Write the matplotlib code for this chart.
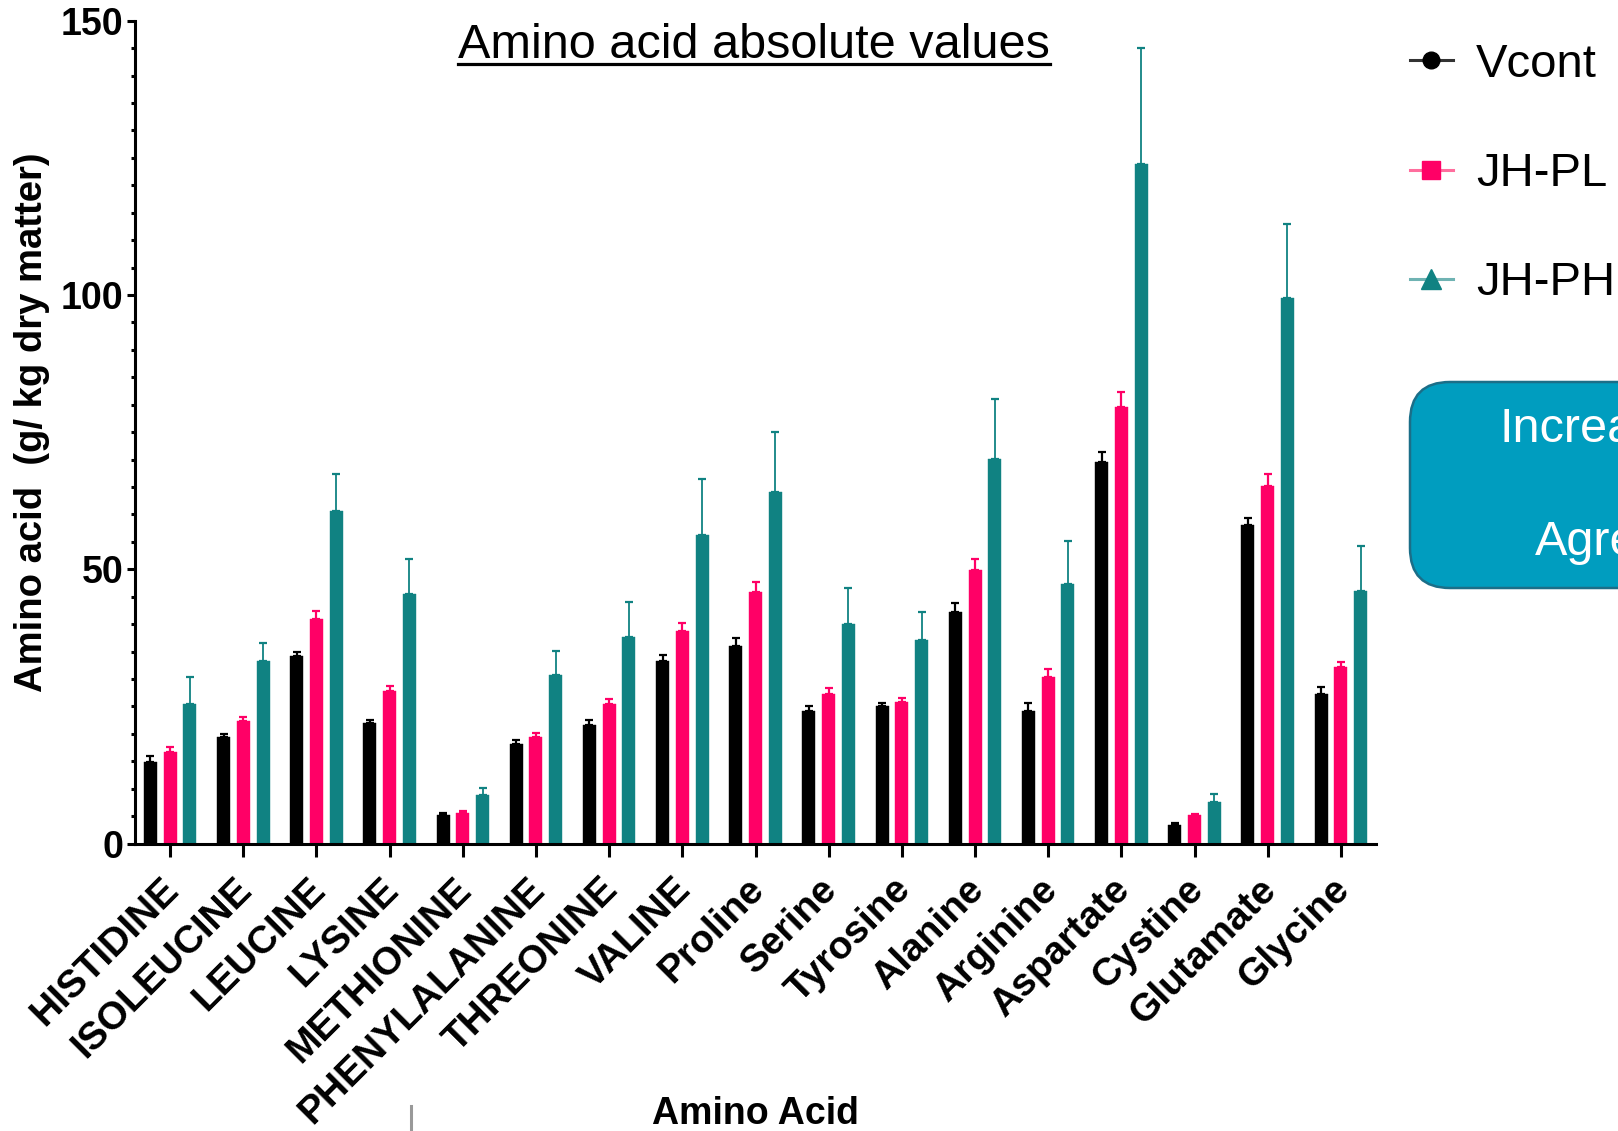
import matplotlib
matplotlib.use("Agg")
import matplotlib.pyplot as plt
import numpy as np
from matplotlib.lines import Line2D
from matplotlib.patches import FancyBboxPatch
from matplotlib.transforms import IdentityTransform, ScaledTranslation

# ---------------- data ----------------
categories = ["HISTIDINE", "ISOLEUCINE", "LEUCINE", "LYSINE", "METHIONINE",
              "PHENYLALANINE", "THREONINE", "VALINE", "Proline", "Serine",
              "Tyrosine", "Alanine", "Arginine", "Aspartate", "Cystine",
              "Glutamate", "Glycine"]
series_names = ["Vcont", "JH-PL", "JH-PH"]
vcont_mean = [14.9, 19.4, 34.2, 22.0, 5.3, 18.2, 21.6, 33.2, 36.1, 24.2, 25.0, 42.3, 24.1, 69.5, 3.4, 58.1, 27.2]
vcont_err = [1.0, 0.6, 0.7, 0.5, 0.2, 0.7, 0.9, 1.2, 1.3, 0.8, 0.6, 1.5, 1.5, 1.8, 0.3, 1.3, 1.4]
jhpl_mean = [16.7, 22.3, 41.0, 27.9, 5.5, 19.4, 25.5, 38.8, 45.9, 27.2, 25.8, 49.8, 30.4, 79.5, 5.2, 65.2, 32.1]
jhpl_err = [0.9, 0.7, 1.4, 0.9, 0.5, 0.7, 0.9, 1.5, 1.7, 1.2, 0.7, 2.1, 1.4, 2.8, 0.2, 2.1, 1.0]
jhph_mean = [25.5, 33.2, 60.7, 45.5, 8.9, 30.8, 37.6, 56.2, 64.1, 40.0, 37.2, 70.1, 47.4, 123.9, 7.5, 99.4, 46.0]
jhph_err = [4.9, 3.4, 6.6, 6.4, 1.2, 4.3, 6.5, 10.2, 10.9, 6.6, 5.1, 10.9, 7.7, 21.1, 1.5, 13.5, 8.3]
y_ticks = [0, 50, 100, 150]

title = "Amino acid absolute values"
xlabel = "Amino Acid"
ylabel = "Amino acid  (g/ kg dry matter)"
box_lines = ["Increa", "Agre"]

# ---------------- style ----------------
FONT = "Liberation Sans"
plt.rcParams["font.family"] = [FONT, "DejaVu Sans"]
colors = ["#000000", "#FF0066", "#108282"]
legend_line_colors = ["#333333", "#FF6E9E", "#6FB3B3"]
markers = ["o", "s", "^"]
means = [vcont_mean, jhpl_mean, jhph_mean]
errs = [vcont_err, jhpl_err, jhph_err]

W, H = 1618, 1131
fig = plt.figure(figsize=(W / 100, H / 100), dpi=100)
ax = fig.add_axes([135 / W, 1 - 843.6 / H, (1376 - 135) / W, (843.6 - 20.7) / H])

x = np.arange(len(categories))
offset = 0.27
bw = 0.178
for i, (m, e, c) in enumerate(zip(means, errs, colors)):
    xi = x + (i - 1) * offset
    ax.bar(xi, m, width=bw, color=c, edgecolor=c, linewidth=0.3, zorder=2)
    ax.errorbar(xi, m, yerr=[np.zeros(len(e)), e], fmt="none", ecolor=c,
                elinewidth=1.6 if i < 2 else 1.3, capsize=2.6, capthick=1.6, zorder=3)

ax.set_xlim(-0.48, len(categories) - 0.52)
ax.set_ylim(0, 150)
ax.set_yticks(y_ticks)
ax.set_yticks(np.arange(0, 151, 5), minor=True)
ax.set_xticks(x)

for s in ["top", "right"]:
    ax.spines[s].set_visible(False)
for s in ["left", "bottom"]:
    ax.spines[s].set_linewidth(2.2)
ax.tick_params(axis="y", which="major", length=5.5, width=2.2, pad=3)
ax.tick_params(axis="y", which="minor", length=3.2, width=2.2)
ax.tick_params(axis="x", which="major", length=9, width=2.2, pad=6)
ax.tick_params(axis="x", which="minor", length=0)

ax.set_xticklabels(categories, rotation=45, ha="right", rotation_mode="default",
                   fontsize=28, fontweight="bold")
for lab in ax.get_xticklabels():
    lab.set_transform(lab.get_transform() + ScaledTranslation(16 / 100, -7 / 100, fig.dpi_scale_trans))
ax.set_yticklabels([str(t) for t in y_ticks], fontsize=27, fontweight="bold")

ax.set_xlabel(xlabel, fontsize=27, fontweight="bold")
ax.xaxis.set_label_coords(0.5, (843.6 - 1096) / 823)
ax.set_ylabel(ylabel, fontsize=27.5, fontweight="bold")
ax.yaxis.set_label_coords((50 - 135) / 1241, (843.6 - 422) / 823)

# title with underline
t = fig.text(754 / W, 1 - 58 / H, title, fontsize=35, ha="center", va="baseline", family=FONT)
fig.canvas.draw()
bb = t.get_window_extent()
fig.add_artist(Line2D([bb.x0 / W, bb.x1 / W], [1 - 64 / H, 1 - 64 / H],
                      color="black", lw=2.3, transform=fig.transFigure))

# legend
handles = [Line2D([0], [0], color=lc, lw=2.2, marker=mk, markersize=ms,
                  markerfacecolor=c, markeredgecolor=c)
           for lc, mk, c, ms in zip(legend_line_colors, markers, colors, [12, 13, 14])]
fig.legend(handles, series_names, loc="upper left", bbox_to_anchor=(1410 / W, 1 - 43 / H),
           frameon=False, prop={"family": FONT, "size": 34}, borderpad=0, borderaxespad=0,
           handlelength=0.9, handletextpad=0.5, labelspacing=1.38)

# rounded box at right
box = FancyBboxPatch((1410, H - 588), 300, 206, boxstyle="round,pad=0,rounding_size=40",
                     facecolor="#009DBF", edgecolor="#1B6E88", linewidth=1.8,
                     transform=IdentityTransform(), figure=fig)
fig.patches.append(box)
fig.text(1499 / W, 1 - 429 / H, box_lines[0], color="white", fontsize=35, ha="left", va="center", family=FONT)
fig.text(1535 / W, 1 - 543 / H, box_lines[1], color="white", fontsize=35, ha="left", va="center", family=FONT)

# small gray mark at the bottom
fig.add_artist(Line2D([411 / W, 411 / W], [0, 1 - 1106 / H], color="#999999", lw=2.2,
                      transform=fig.transFigure))

fig.savefig("out.png", dpi=100)
